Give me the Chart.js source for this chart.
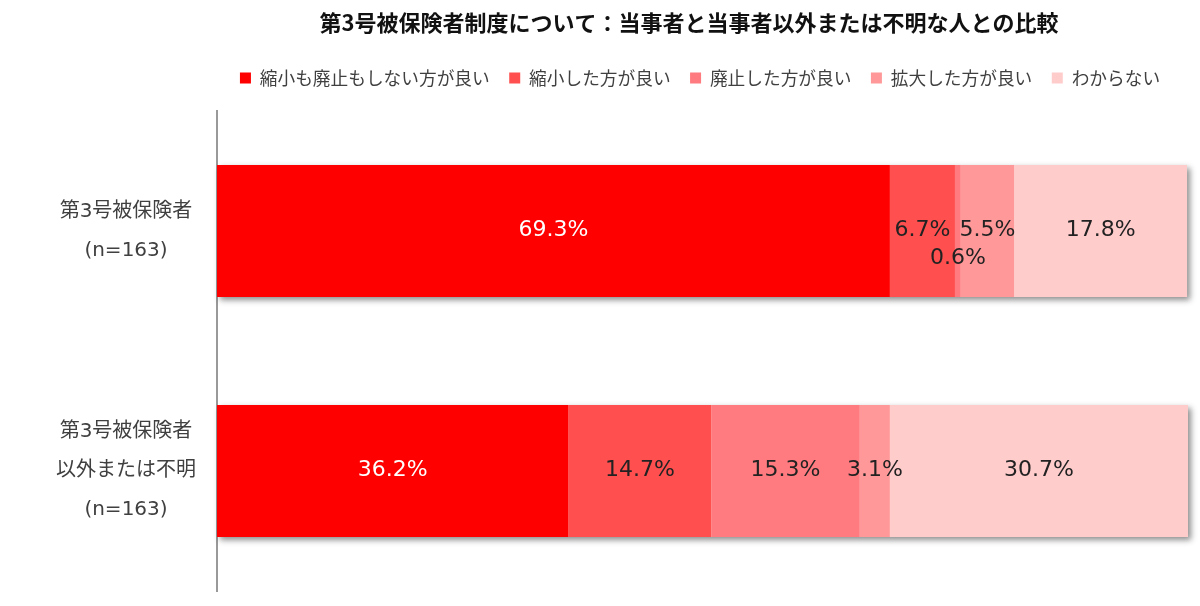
<!DOCTYPE html>
<html>
<head>
<meta charset="utf-8">
<script src="https://cdn.jsdelivr.net/npm/chart.js@4/dist/chart.umd.min.js"></script>
<style>
  html, body { margin: 0; padding: 0; background: #fff; }
  #wrap { width: 1200px; height: 606px; position: relative; }
</style>
</head>
<body>
<div id="wrap"><canvas id="c"></canvas></div>
<script>
const titleText = '第3号被保険者制度について：当事者と当事者以外または不明な人との比較';
const categories = [
  ['第3号被保険者', '(n=163)'],
  ['第3号被保険者', '以外または不明', '(n=163)']
];
const seriesNames = ['縮小も廃止もしない方が良い', '縮小した方が良い', '廃止した方が良い', '拡大した方が良い', 'わからない'];
const keepValues = [69.3, 36.2];
const shrinkValues = [6.7, 14.7];
const abolishValues = [0.6, 15.3];
const expandValues = [5.5, 3.1];
const unknownValues = [17.8, 30.7];
const seriesColors = ['#FF0000', '#FF4F4F', '#FF7B7F', '#FF9999', '#FFCCCC'];
const labelColors = ['#FFFFFF', '#222222', '#222222', '#222222', '#222222'];

const allValues = [keepValues, shrinkValues, abolishValues, expandValues, unknownValues];

const LATIN_CJK = '"DejaVu Sans", "Noto Sans CJK JP", sans-serif';
const CJK = '"Noto Sans CJK JP", sans-serif';

const shadowPlugin = {
  id: 'barShadow',
  beforeDatasetsDraw(chart) {
    const ctx = chart.ctx;
    const metas = chart.data.datasets.map((d, i) => chart.getDatasetMeta(i));
    const n = chart.data.labels.length;
    for (let j = 0; j < n; j++) {
      let left = Infinity, right = -Infinity, top = 0, bottom = 0;
      metas.forEach(m => {
        const el = m.data[j];
        if (!el) return;
        left = Math.min(left, el.base, el.x);
        right = Math.max(right, el.base, el.x);
        top = el.y - el.height / 2;
        bottom = el.y + el.height / 2;
      });
      ctx.save();
      ctx.shadowColor = 'rgba(0,0,0,0.45)';
      ctx.shadowBlur = 6;
      ctx.shadowOffsetX = 3;
      ctx.shadowOffsetY = 3;
      ctx.fillStyle = '#ffffff';
      ctx.fillRect(left, top, right - left, bottom - top);
      ctx.restore();
    }
  }
};

const valueLabelPlugin = {
  id: 'valueLabels',
  afterDatasetsDraw(chart) {
    const ctx = chart.ctx;
    ctx.save();
    ctx.font = '22px ' + LATIN_CJK;
    ctx.textAlign = 'center';
    ctx.textBaseline = 'middle';
    chart.data.datasets.forEach((ds, i) => {
      const meta = chart.getDatasetMeta(i);
      meta.data.forEach((el, j) => {
        const v = ds.data[j];
        const x = (el.x + el.base) / 2;
        let y = el.y - 1;
        if (v < 1) y += 28;
        ctx.fillStyle = labelColors[i];
        ctx.fillText(v.toFixed(1) + '%', x, y);
      });
    });
    ctx.restore();
  }
};

const centerHeaderPlugin = {
  id: 'centerHeader',
  beforeDraw(chart) {
    const a = chart.chartArea;
    if (chart.legend) { chart.legend.left = a.left; chart.legend.right = a.right - 5; }
    if (chart.titleBlock) { chart.titleBlock.left = a.left; chart.titleBlock.right = a.right - 27; }
  }
};

new Chart(document.getElementById('c'), {
  type: 'bar',
  data: {
    labels: categories,
    datasets: seriesNames.map((name, i) => ({
      label: name,
      data: allValues[i],
      backgroundColor: seriesColors[i],
      borderWidth: 0,
      barPercentage: 0.55,
      categoryPercentage: 1.0
    }))
  },
  options: {
    indexAxis: 'y',
    responsive: true,
    maintainAspectRatio: false,
    animation: false,
    layout: { padding: { top: 0, right: 12, bottom: 15, left: 0 } },
    scales: {
      x: {
        stacked: true,
        min: 0,
        max: 100,
        position: 'top',
        grid: { display: false },
        border: { display: false },
        ticks: { display: false },
        afterFit: (s) => { s.height = 14.15; }
      },
      y: {
        stacked: true,
        grid: { display: false, drawTicks: false },
        border: { display: true, color: '#999999', width: 2 },
        ticks: {
          crossAlign: 'center',
          padding: 21,
          color: '#404040',
          font: { family: LATIN_CJK, size: 20, lineHeight: 1.95 }
        },
        afterFit: (s) => { s.width = 217; s.paddingTop = 0; s.paddingBottom = 0; }
      }
    },
    plugins: {
      title: {
        display: true,
        text: titleText,
        color: '#111111',
        font: { family: CJK, size: 22, weight: 'bold', lineHeight: 1.2 },
        padding: { top: 9, bottom: 14.25 }
      },
      legend: {
        display: true,
        position: 'top',
        align: 'center',
        labels: {
          boxWidth: 11,
          boxHeight: 11,
          padding: 19.5,
          color: '#404040',
          font: { family: CJK, size: 17.7 }
        }
      },
      tooltip: { enabled: false }
    }
  },
  plugins: [shadowPlugin, valueLabelPlugin, centerHeaderPlugin]
});
</script>
</body>
</html>
